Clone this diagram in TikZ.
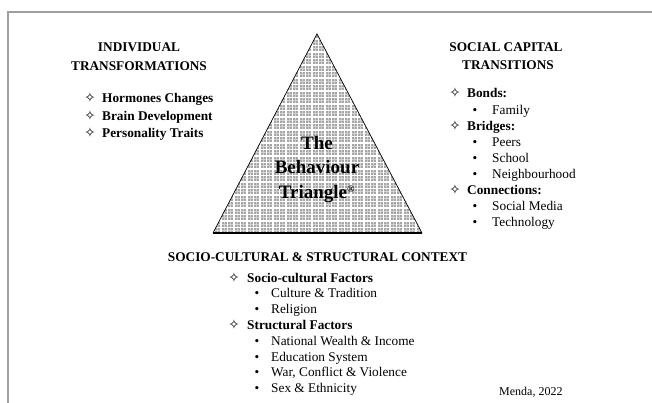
\documentclass[tikz,border=0pt]{standalone}
\usepackage{fontspec}
\setmainfont{Liberation Serif}
\newfontfamily\symfont{DejaVu Sans}
\newcommand{\starmark}{{\symfont\fontsize{13.5}{14}\selectfont ✧}}
\begin{document}
\begin{tikzpicture}[x=1pt,y=-1pt,
  txt/.style={inner sep=0pt, font=\fontsize{13.3}{16}\selectfont},
  head/.style={inner sep=0pt, anchor=base, font=\fontsize{13.3}{16}\selectfont\bfseries},
  lead/.style={inner sep=0pt, anchor=base west, font=\fontsize{13.3}{16}\selectfont\bfseries},
  sub/.style={txt, anchor=base west},
  starnode/.style={inner sep=0pt, anchor=base},
  dotnode/.style={txt, anchor=base},
  tritext/.style={inner sep=0pt, anchor=base, font=\fontsize{19}{23}\selectfont\bfseries},
]
\useasboundingbox (0,0) rectangle (652,403);
% outer frame (top and left edges)
\draw[gray!75, line width=1.6pt] (8,404) |- (653,12);

% the triangle with its grid texture
\coordinate (apex) at (317,34);
\coordinate (bl) at (213,233);
\coordinate (br) at (422,233);
\begin{scope}
  \clip (apex) -- (bl) -- (br) -- cycle;
  \fill[gray!70] (200,20) rectangle (440,240);
  \draw[gray!35, line width=0.8pt, step=3.25pt] (200,20) grid (440,240);
  \draw[white, line width=1.1pt, step=6.5pt] (200,20) grid (440,240);
\end{scope}
\draw[line width=0.7pt, line join=miter] (bl) -- (apex) -- (br);
\draw[line width=2pt] (bl) -- (br);
\node[tritext] (t1) at (317,149.5) {The};
\node[tritext] (t2) at (317,174) {Behaviour};
\node[tritext] (t3) at (317,198.5) {Triangle\textsuperscript{\fontsize{10}{11}\selectfont\textregistered}};

% individual transformations
\node[head] (h1a) at (139,52) {INDIVIDUAL};
\node[head] (h1b) at (139,70.5) {TRANSFORMATIONS};
\foreach \y/\t [count=\i] in {103/Hormones Changes,120.5/Brain Development,137.5/Personality Traits}{
  \node[starnode] (ls\i) at (90,\y) {\starmark};
  \node[lead] (li\i) at (102,\y) {\t};
}

% social capital transitions
\node[head] (h2a) at (506,52) {SOCIAL CAPITAL};
\node[head] (h2b) at (508,69.5) {TRANSITIONS};
\foreach \y/\t [count=\i] in {98/Bonds:,130.2/Bridges:,194.6/Connections:}{
  \node[starnode] (rs\i) at (455,\y) {\starmark};
  \node[lead] (ri\i) at (467,\y) {\t};
}
\foreach \y/\t [count=\i] in {114.1/Family,146.3/Peers,162.4/School,178.5/Neighbourhood,210.7/Social Media,226.8/Technology}{
  \node[dotnode] (rb\i) at (475,\y) {•};
  \node[sub] (rt\i) at (492,\y) {\t};
}

% socio-cultural and structural context
\node[head] (h3) at (317.5,261) {SOCIO-CULTURAL \& STRUCTURAL CONTEXT};
\foreach \y/\t [count=\i] in {282/Socio-cultural Factors,329.4/Structural Factors}{
  \node[starnode] (bs\i) at (234,\y) {\starmark};
  \node[lead] (bi\i) at (247,\y) {\t};
}
\foreach \y/\t [count=\i] in {297.8/Culture \& Tradition,313.6/Religion,345.2/National Wealth \& Income,361/Education System,376.8/{War, Conflict \& Violence},392.6/Sex \& Ethnicity}{
  \node[dotnode] (bb\i) at (257,\y) {•};
  \node[sub] (bt\i) at (271,\y) {\t};
}

\node[inner sep=0pt, anchor=base west, font=\fontsize{12}{14}\selectfont] (src) at (499,395) {Menda, 2022};
\end{tikzpicture}
\end{document}
